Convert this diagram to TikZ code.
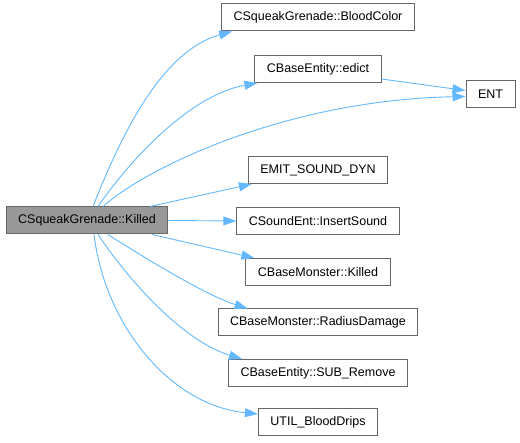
\documentclass[tikz,border=0pt]{standalone}
\usepackage{fontspec}
\setmainfont{Liberation Sans}
\usepackage{tikz}
\usepackage{xcolor}
\usetikzlibrary{arrows.meta}

\definecolor{edgeblue}{HTML}{63B8FF}
\definecolor{boxgray}{HTML}{666666}
\definecolor{rootgray}{HTML}{999999}

\tikzset{
  fn/.style={draw=boxgray, fill=white, line width=1pt, rectangle,
    minimum height=27pt, inner xsep=12pt, inner ysep=0pt,
    font=\fontsize{12.5}{15}\selectfont},
  rootfn/.style={fn, fill=rootgray},
  call/.style={draw=edgeblue, line width=0.9pt,
    -{Triangle[length=13pt, width=9pt, fill=edgeblue]}}
}

\begin{document}
\begin{tikzpicture}[x=1pt, y=-1pt]
  \useasboundingbox (0,0) rectangle (520,443);
  % Caller
  \node[rootfn] (root) at (87,220.5) {CSqueakGrenade::Killed};
  % Callees (one column)
  \node[fn] (blood)  at (318,17.5)  {CSqueakGrenade::BloodColor};
  \node[fn] (edict)  at (318,69)    {CBaseEntity::edict};
  \node[fn] (emit)   at (318,170)   {EMIT\_SOUND\_DYN};
  \node[fn] (insert) at (318,221)   {CSoundEnt::InsertSound};
  \node[fn] (mkill)  at (318,272)   {CBaseMonster::Killed};
  \node[fn] (radius) at (318,322.5) {CBaseMonster::RadiusDamage};
  \node[fn] (remove) at (318,373)   {CBaseEntity::SUB\_Remove};
  \node[fn] (drips)  at (318,422.5) {UTIL\_BloodDrips};
  % Second level
  \node[fn] (ent) at (490.5,94.5) {ENT};
  % Calls going up
  \draw[call] ([xshift=6pt]root.north) .. controls (125,125) and (165,50) .. ([xshift=11pt]blood.south west);
  \draw[call] ([xshift=11pt]root.north) .. controls (130,160) and (190,95) .. ([xshift=3pt]edict.south west);
  \draw[call] ([xshift=16pt]root.north) .. controls (150,165) and (290,100) .. ([yshift=-2pt]ent.west);
  \draw[call] ([yshift=-10pt]edict.east) -- ([yshift=4pt]ent.west);
  \draw[call] ([xshift=63pt]root.north) -- ([xshift=4pt]emit.south west);
  % Straight across
  \draw[call] (root.east) -- (insert.west);
  % Calls going down
  \draw[call] ([xshift=65pt]root.south) -- ([xshift=9pt]mkill.north west);
  \draw[call] ([xshift=21pt]root.south) .. controls (140,255) and (205,295) .. ([xshift=30pt]radius.north west);
  \draw[call] ([xshift=11pt]root.south) .. controls (125,275) and (180,340) .. ([xshift=14pt]remove.north west);
  \draw[call] ([xshift=7pt]root.south) .. controls (105,325) and (170,405) .. ([yshift=8.5pt]drips.west);
\end{tikzpicture}
\end{document}
